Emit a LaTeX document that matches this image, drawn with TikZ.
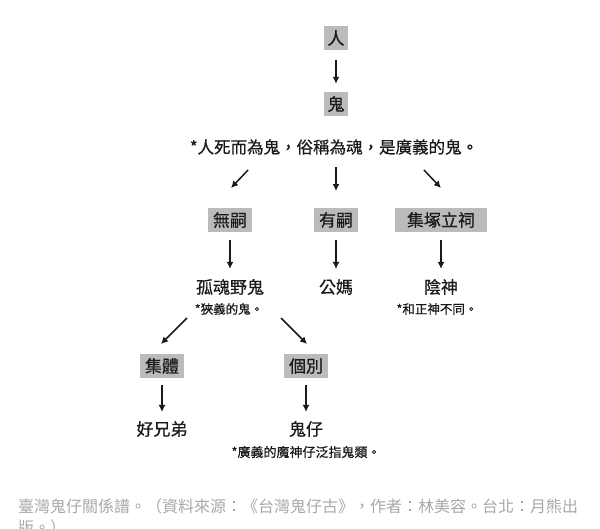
\documentclass[tikz,border=0pt]{standalone}
\usepackage{fontspec}
\setmainfont{Noto Sans CJK TC}[FakeBold=0.6]
\newfontfamily\capfont{Noto Sans CJK TC}
\usetikzlibrary{arrows.meta}
\definecolor{boxgray}{HTML}{BBBBBB}
\definecolor{capgray}{HTML}{A8A8A8}
\definecolor{ink}{HTML}{1A1A1A}
\tikzset{
  graybox/.style={fill=boxgray, text=ink, font=\fontsize{17}{19}\selectfont, inner xsep=5pt, inner ysep=0pt, minimum height=24pt, anchor=center},
  label/.style={text=ink, font=\fontsize{17}{19}\selectfont, inner sep=0pt, anchor=center},
  note/.style={text=ink, font=\fontsize{12.5}{14}\selectfont, inner sep=0pt, anchor=center},
  arr/.style={-{Latex[length=7pt,width=7pt]}, line width=1.5pt, draw=ink},
}
\begin{document}
\begin{tikzpicture}[x=1pt,y=-1pt]
\useasboundingbox (0,0) rectangle (600,528);
% top
\node[graybox, inner xsep=3.5pt] (ren) at (336,38) {人};
\node[graybox, inner xsep=3.5pt] (gui) at (336,104) {鬼};
\node[label, font=\fontsize{16.5}{19}\selectfont] (def) at (334,147) {*人死而為鬼，俗稱為魂，是廣義的鬼。};
\draw[arr, shorten <=10pt, shorten >=8pt] (ren.south) -- (gui.north);
% three branches
\node[graybox] (wusi) at (230,220) {無嗣};
\node[graybox] (yousi) at (336,220) {有嗣};
\node[graybox, inner xsep=12pt] (jizhong) at (441,220) {集塚立祠};
\coordinate (b1s) at (248,170); \coordinate (b1e) at (231,188);
\coordinate (b2s) at (336,167); \coordinate (b2e) at (336,191);
\coordinate (b3s) at (424,170); \coordinate (b3e) at (441,188);
\draw[arr] (b1s) -- (b1e);
\draw[arr] (b2s) -- (b2e);
\draw[arr] (b3s) -- (b3e);
% second level
\node[label] (guhun) at (230,287) {孤魂野鬼};
\node[label] (gongma) at (336,287) {公媽};
\node[label] (yinshen) at (441,287) {陰神};
\node[note] (n1) at (229,309) {*狹義的鬼。};
\node[note] (n2) at (437,309) {*和正神不同。};
\draw[arr, shorten <=8pt, shorten >=10pt] (wusi.south) -- (guhun.north);
\draw[arr, shorten <=8pt, shorten >=10pt] (yousi.south) -- (gongma.north);
\draw[arr, shorten <=8pt, shorten >=10pt] (jizhong.south) -- (yinshen.north);
% third level
\node[graybox] (jiti) at (162,366) {集體};
\node[graybox] (gebie) at (306,366) {個別};
\coordinate (c1s) at (187,318); \coordinate (c1e) at (161,344);
\coordinate (c2s) at (281,318); \coordinate (c2e) at (307,344);
\draw[arr] (c1s) -- (c1e);
\draw[arr] (c2s) -- (c2e);
\node[label] (xiongdi) at (162,429) {好兄弟};
\node[label] (guizai) at (306,429) {鬼仔};
\node[note, font=\fontsize{13}{15}\selectfont] (n3) at (306,452) {*廣義的魔神仔泛指鬼類。};
\draw[arr, shorten <=7pt, shorten >=9pt] (jiti.south) -- (xiongdi.north);
\draw[arr, shorten <=7pt, shorten >=9pt] (gebie.south) -- (guizai.north);
% caption
\node[anchor=north west, inner sep=0pt, text=capgray, align=left, font=\capfont\fontsize{16}{21}\selectfont] (cap) at (18,499) {臺灣鬼仔關係譜。（資料來源：《台灣鬼仔古》，作者：林美容。台北：月熊出\\版。）};
\end{tikzpicture}
\end{document}
